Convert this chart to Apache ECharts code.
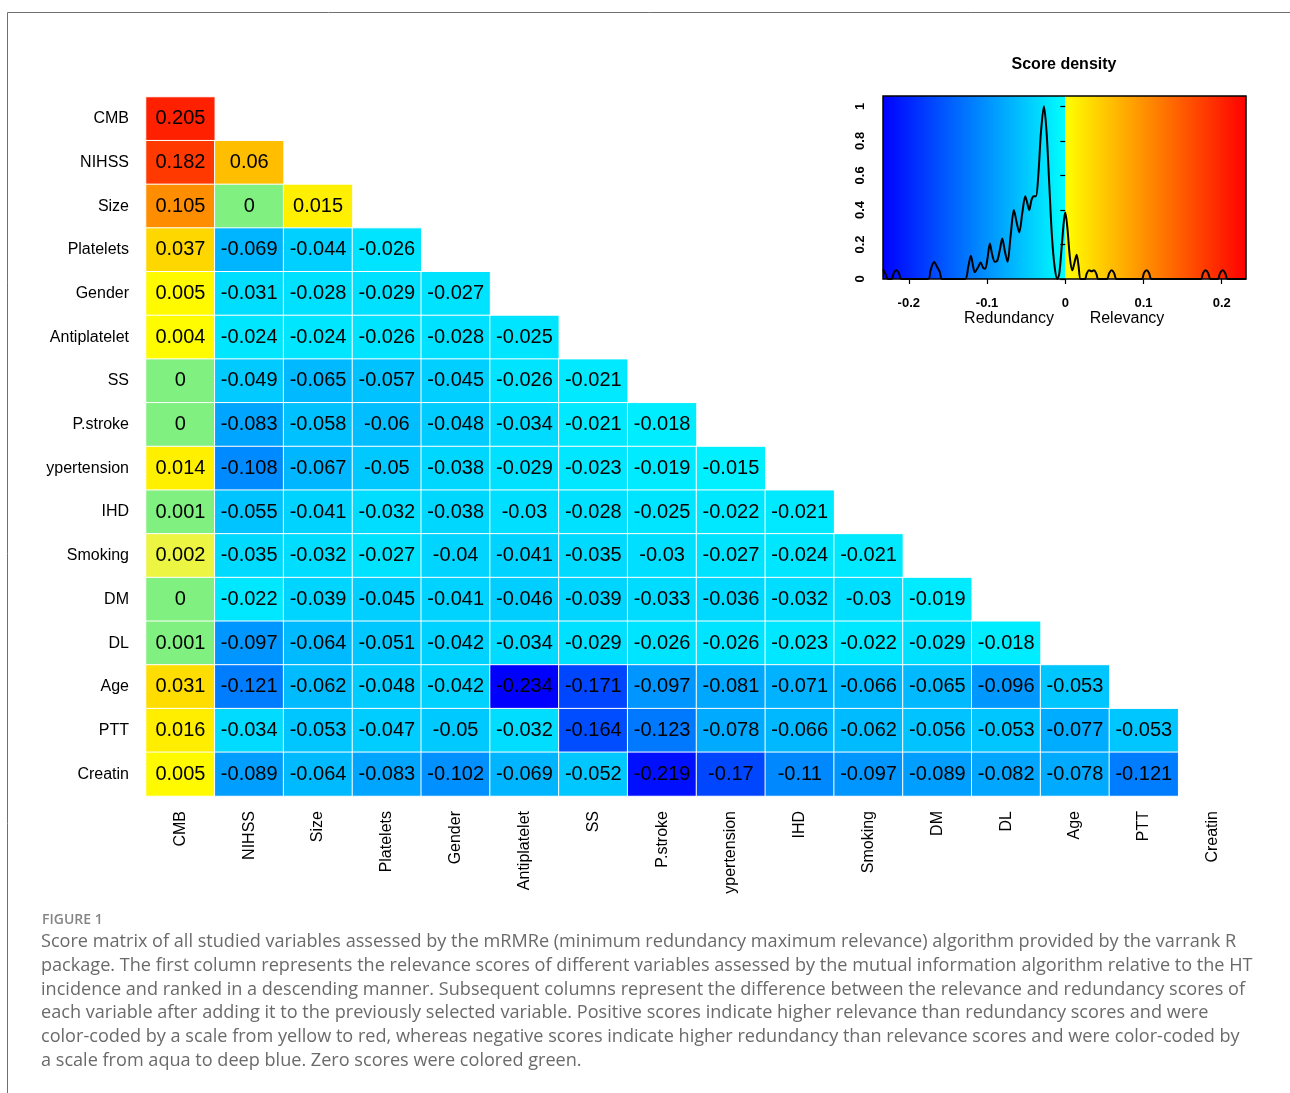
<!DOCTYPE html>
<html>
<head>
<meta charset="utf-8">
<script src="https://cdn.jsdelivr.net/npm/echarts@6/dist/echarts.min.js"></script>
<style>
html,body{margin:0;padding:0;background:#fff;}
#c{width:1290px;height:1093px;}
</style>
</head>
<body>
<div id="c"></div>
<script>
// ---------- DATA ----------
const variables = ['CMB','NIHSS','Size','Platelets','Gender','Antiplatelet','SS','P.stroke','ypertension','IHD','Smoking','DM','DL','Age','PTT','Creatin'];

const rowCMB          = [0.205];
const rowNIHSS        = [0.182, 0.06];
const rowSize         = [0.105, 0, 0.015];
const rowPlatelets    = [0.037, -0.069, -0.044, -0.026];
const rowGender       = [0.005, -0.031, -0.028, -0.029, -0.027];
const rowAntiplatelet = [0.004, -0.024, -0.024, -0.026, -0.028, -0.025];
const rowSS           = [0, -0.049, -0.065, -0.057, -0.045, -0.026, -0.021];
const rowPstroke      = [0, -0.083, -0.058, -0.06, -0.048, -0.034, -0.021, -0.018];
const rowHypertension = [0.014, -0.108, -0.067, -0.05, -0.038, -0.029, -0.023, -0.019, -0.015];
const rowIHD          = [0.001, -0.055, -0.041, -0.032, -0.038, -0.03, -0.028, -0.025, -0.022, -0.021];
const rowSmoking      = [0.002, -0.035, -0.032, -0.027, -0.04, -0.041, -0.035, -0.03, -0.027, -0.024, -0.021];
const rowDM           = [0, -0.022, -0.039, -0.045, -0.041, -0.046, -0.039, -0.033, -0.036, -0.032, -0.03, -0.019];
const rowDL           = [0.001, -0.097, -0.064, -0.051, -0.042, -0.034, -0.029, -0.026, -0.026, -0.023, -0.022, -0.029, -0.018];
const rowAge          = [0.031, -0.121, -0.062, -0.048, -0.042, -0.234, -0.171, -0.097, -0.081, -0.071, -0.066, -0.065, -0.096, -0.053];
const rowPTT          = [0.016, -0.034, -0.053, -0.047, -0.05, -0.032, -0.164, -0.123, -0.078, -0.066, -0.062, -0.056, -0.053, -0.077, -0.053];
const rowCreatin      = [0.005, -0.089, -0.064, -0.083, -0.102, -0.069, -0.052, -0.219, -0.17, -0.11, -0.097, -0.089, -0.082, -0.078, -0.121];

const matrixRows = [rowCMB,rowNIHSS,rowSize,rowPlatelets,rowGender,rowAntiplatelet,rowSS,rowPstroke,rowHypertension,rowIHD,rowSmoking,rowDM,rowDL,rowAge,rowPTT,rowCreatin];

// density curve (score, scaled density)
const densityScore = [-0.2328,-0.2299,-0.2264,-0.2222,-0.2192,-0.2158,-0.2128,-0.2094,-0.1753,-0.1723,-0.1676,-0.1638,-0.1603,-0.1574,
  -0.1284,-0.1241,-0.1207,-0.1177,-0.1156,-0.1113,-0.1083,-0.1049,-0.1023,-0.0994,
  -0.0964,-0.0934,-0.0900,-0.0870,-0.0836,-0.0806,-0.0772,-0.0738,-0.0699,-0.0657,
  -0.0623,-0.0588,-0.0550,-0.0512,-0.0486,-0.0461,-0.0431,-0.0401,-0.0375,-0.0345,
  -0.0311,-0.0273,-0.0239,-0.0205,-0.0171,-0.0136,-0.0102,-0.0077,-0.0047,-0.0017,0,
  0.0026,0.0060,0.0090,0.0115,0.0145,0.0171,0.0196,
  0.0252,0.0273,0.0303,0.0337,0.0367,0.0397,0.0422,
  0.0529,0.0563,0.0593,0.0623,0.0657,
  0.0977,0.1006,0.1041,0.1070,0.1104,
  0.1731,0.1761,0.1795,0.1825,0.1859,
  0.1949,0.1979,0.2013,0.2043,0.2077,0.2311];
const densityValue = [0.055,0.03,0,0,0.035,0.05,0.035,0,0,0.05,0.098,0.07,0.04,0,
  0,0.07,0.135,0.07,0.04,0.07,0.095,0.065,0.06,0.12,
  0.205,0.14,0.1,0.105,0.17,0.235,0.16,0.1,0.25,0.40,
  0.33,0.27,0.38,0.48,0.44,0.40,0.46,0.48,0.48,0.6,
  0.85,1.0,0.85,0.55,0.25,0.07,0,0.03,0.18,0.34,0.385,
  0.3,0.12,0.05,0.09,0.14,0.07,0,
  0,0.03,0.05,0.045,0.05,0.03,0,
  0,0.035,0.05,0.035,0,
  0,0.035,0.05,0.035,0,
  0,0.035,0.05,0.035,0,
  0,0.035,0.05,0.035,0,0];

const densityXTicks = ['-0.2','-0.1','0','0.1','0.2'];

const captionText = [
  'Score matrix of all studied variables assessed by the mRMRe (minimum redundancy maximum relevance) algorithm provided by the varrank R',
  'package. The first column represents the relevance scores of different variables assessed by the mutual information algorithm relative to the HT',
  'incidence and ranked in a descending manner. Subsequent columns represent the difference between the relevance and redundancy scores of',
  'each variable after adding it to the previously selected variable. Positive scores indicate higher relevance than redundancy scores and were',
  'color-coded by a scale from yellow to red, whereas negative scores indicate higher redundancy than relevance scores and were color-coded by',
  'a scale from aqua to deep blue. Zero scores were colored green.'
];

// ---------- BUILD ----------
const heatData = [];
matrixRows.forEach((row, r) => row.forEach((v, c) => heatData.push([c, r, v])));

const scaleMax = 0.234;
// colour scale: blue -> aqua for negatives, green around zero, yellow -> red for positives
const step = 0.001;
const nSteps = Math.round(scaleMax / step);
const toHex = n => ('0' + Math.round(n).toString(16)).slice(-2);
const stops = [];
for (let j = -nSteps; j <= nSteps; j++) {
  const v = j * step;
  if (j < 0) {
    const f = (v + scaleMax) / (scaleMax - step);
    stops.push('#00' + toHex(255 * f) + 'ff');
  } else if (j <= 1) {
    stops.push('#80f080');
  } else if (j === 2) {
    stops.push('#ecf542');
  } else {
    const f = v / scaleMax;
    stops.push('#ff' + toHex(255 * (1 - f)) + '00');
  }
}

const dMin = -0.233, dMax = 0.231;
const zeroPos = -dMin / (dMax - dMin);

const chart = echarts.init(document.getElementById('c'), null, {renderer: 'canvas'});
const FONT = '"Liberation Sans", Arial, Helvetica, sans-serif';
const CAPFONT = '"Open Sans", sans-serif';

chart.setOption({
  backgroundColor: '#ffffff',
  animation: false,
  grid: [
    {left: 146, top: 97, width: 1101, height: 699},
    {left: 883, top: 96, width: 363, height: 183, show: true, borderColor: '#000', borderWidth: 1.5,
     backgroundColor: new echarts.graphic.LinearGradient(0, 0, 1, 0, [
       {offset: 0, color: '#0000ff'},
       {offset: zeroPos, color: '#00ffff'},
       {offset: zeroPos, color: '#ffff00'},
       {offset: 1, color: '#ff0000'}
     ])}
  ],
  xAxis: [
    {type: 'category', gridIndex: 0, data: variables, position: 'bottom',
     axisLine: {show: false}, axisTick: {show: false}, splitLine: {show: false},
     axisLabel: {rotate: 90, margin: 15, fontSize: 16, color: '#000', fontFamily: FONT, interval: 0}},
    {type: 'value', gridIndex: 1, min: dMin, max: dMax,
     axisLine: {show: false}, splitLine: {show: false},
     axisTick: {show: true, length: 5, lineStyle: {color: '#000', width: 1.2}},
     axisLabel: {margin: 18, fontSize: 13, fontWeight: 'bold', color: '#000', fontFamily: FONT,
                 showMinLabel: false, showMaxLabel: false,
                 formatter: v => { const s = densityXTicks.find(t => Math.abs(parseFloat(t) - v) < 1e-9); return s === undefined ? '' : s; }}}
  ],
  yAxis: [
    {type: 'category', gridIndex: 0, data: variables, inverse: true,
     axisLine: {show: false}, axisTick: {show: false}, splitLine: {show: false},
     axisLabel: {margin: 17, fontSize: 16, color: '#000', fontFamily: FONT, interval: 0}},
    {type: 'value', gridIndex: 1, min: 0, max: 1.06, interval: 0.2,
     axisLine: {show: false}, splitLine: {show: false},
     axisTick: {show: true, length: 5, lineStyle: {color: '#000', width: 1.2}},
     axisLabel: {rotate: 90, margin: 16, fontSize: 13, fontWeight: 'bold', color: '#000', fontFamily: FONT,
                 showMaxLabel: false}}
  ],
  visualMap: {
    type: 'continuous', show: false, seriesIndex: 0, dimension: 2,
    min: -scaleMax, max: scaleMax,
    inRange: {color: stops}
  },
  series: [
    {type: 'heatmap', xAxisIndex: 0, yAxisIndex: 0, data: heatData,
     itemStyle: {borderColor: '#ffffff', borderWidth: 1},
     label: {show: true, color: '#000', fontSize: 20, fontFamily: FONT,
             formatter: p => String(p.value[2])},
     emphasis: {disabled: true}},
    {type: 'line', xAxisIndex: 1, yAxisIndex: 1,
     data: densityScore.map((x, i) => [x, densityValue[i]]),
     showSymbol: false, smooth: 0.3, clip: true,
     lineStyle: {color: '#000', width: 2}}
  ],
  graphic: [
    {type: 'rect', z: 0, silent: true, shape: {x: 7.5, y: 12.5, width: 1400, height: 1200},
     style: {fill: 'none', stroke: '#707070', lineWidth: 1}},
    {type: 'text', x: 1064, y: 65, style: {text: 'Score density', font: 'bold 16px ' + FONT, fill: '#000', align: 'center', verticalAlign: 'middle'}},
    {type: 'text', x: 1009, y: 319, style: {text: 'Redundancy', font: '16px ' + FONT, fill: '#000', align: 'center', verticalAlign: 'middle'}},
    {type: 'text', x: 1127, y: 319, style: {text: 'Relevancy', font: '16px ' + FONT, fill: '#000', align: 'center', verticalAlign: 'middle'}},
    {type: 'text', x: 42, y: 920, style: {text: 'FIGURE 1', font: '600 14px ' + CAPFONT, fill: '#858585', align: 'left', verticalAlign: 'middle'}},
    {type: 'text', x: 41, y: 930, style: {text: captionText.join('\n'), font: '18.1px ' + CAPFONT, lineHeight: 23.8, fill: '#6a6a6a', align: 'left', verticalAlign: 'top'}}
  ]
});
</script>
</body>
</html>
